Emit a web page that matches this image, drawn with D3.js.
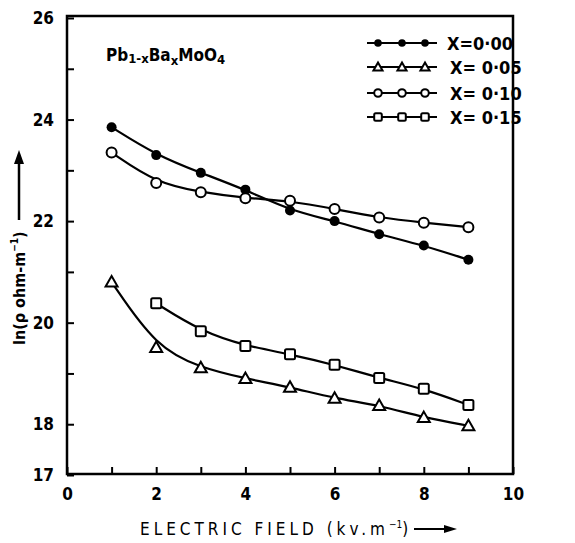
<!DOCTYPE html>
<html>
<head>
	<meta charset="utf-8">
	<title></title>
	<script src="https://d3js.org/d3.v7.min.js" charset="utf-8"></script>
	<style type="text/css">
		body { margin:0; background:#fff; }
		svg text { font-family: 'DejaVu Sans Condensed', 'DejaVu Sans', sans-serif; fill:#000; }
		.tick text { font-size:17px; font-weight:bold; }
	</style>
</head>
<body>
	<script type="text/javascript">
		// electric field (kv/m)
		var field = [1, 2, 3, 4, 5, 6, 7, 8, 9];
		var fieldSq = [2, 3, 4, 5, 6, 7, 8, 9];

		// ln(rho) for each composition
		var x000 = [23.85, 23.3, 22.95, 22.62, 22.21, 22.0, 21.74, 21.52, 21.24];
		var x005 = [20.8, 19.51, 19.11, 18.9, 18.73, 18.51, 18.37, 18.13, 17.97];
		var x010 = [23.35, 22.75, 22.57, 22.45, 22.4, 22.24, 22.07, 21.97, 21.88];
		var x015 = [20.38, 19.83, 19.54, 19.38, 19.17, 18.91, 18.7, 18.38];

		var legendLabels = ['X=0·00', 'X= 0·05', 'X= 0·10', 'X= 0·15'];
		var xTicks = [0,1,2,3,4,5,6,7,8,9,10];
		var yTicks = [17,18,19,20,21,22,23,24,25,26];
		var yLabeled = [17,18,20,22,24,26];

		var w = 575, h = 543;
		var mL = 67, mR = 513, mT = 16, mB = 474;

		var svg = d3.select('body').append('svg')
			.attr('width', w).attr('height', h);

		var x = d3.scaleLinear().domain([0, 10]).range([mL, mR]);
		var y = d3.scaleLinear().domain([17, 26]).range([475, 18]);

		// frame
		svg.append('rect')
			.attr('x', mL).attr('y', mT)
			.attr('width', mR - mL).attr('height', mB - mT)
			.attr('fill', 'none').attr('stroke', '#000').attr('stroke-width', 2.5);

		svg.append('g')
			.attr('transform', 'translate(0,' + mB + ')')
			.call(d3.axisBottom(x).tickValues(xTicks).tickSizeInner(-7).tickSizeOuter(0).tickPadding(14)
				.tickFormat(function(d){ return d % 2 == 0 ? d : ''; }));
		svg.append('g')
			.attr('transform', 'translate(' + mL + ',0)')
			.call(d3.axisLeft(y).tickValues(yTicks).tickSizeInner(-7).tickSizeOuter(0).tickPadding(13)
				.tickFormat(function(d){ return yLabeled.indexOf(d) >= 0 ? d : ''; }));
		svg.selectAll('.domain').remove();
		svg.selectAll('.tick line').attr('stroke-width', 2);

		// axis titles
		svg.append('text')
			.attr('x', 140).attr('y', 535)
			.attr('font-size', 17).attr('letter-spacing', 4)
			.text('ELECTRIC FIELD (kv.m')
			.append('tspan').attr('dy', -7).attr('font-size', 10).attr('letter-spacing', 0).text('−1')
			.select(function(){ return this.parentNode; })
			.append('tspan').attr('dy', 7).text(')');
		svg.append('line')
			.attr('x1', 414).attr('x2', 450).attr('y1', 529).attr('y2', 529)
			.attr('stroke', '#000').attr('stroke-width', 2);
		svg.append('path').attr('d', 'M457,529 L444,525 L444,533 Z').attr('fill', '#000');

		var yl = svg.append('g').attr('transform', 'translate(25,345) rotate(-90)');
		yl.append('text')
			.attr('x', 0).attr('y', 0)
			.attr('font-size', 16).attr('font-weight', 'bold')
			.text('ln(ρ ohm-m')
			.append('tspan').attr('dy', -7).attr('font-size', 10).text('−1')
			.select(function(){ return this.parentNode; })
			.append('tspan').attr('dy', 7).text(')');
		yl.append('line')
			.attr('x1', 125).attr('x2', 185).attr('y1', -6).attr('y2', -6)
			.attr('stroke', '#000').attr('stroke-width', 2.5);
		yl.append('path').attr('d', 'M195,-6 L181,-11 L181,-1 Z').attr('fill', '#000');

		// compound label
		var t = svg.append('text').attr('x', 106).attr('y', 61).attr('font-size', 17).attr('font-weight', 'bold');
		t.append('tspan').text('Pb');
		t.append('tspan').attr('font-size', 13).attr('dy', 2).text('1-x');
		t.append('tspan').attr('dy', -2).text('Ba');
		t.append('tspan').attr('font-size', 13).attr('dy', 4).text('x');
		t.append('tspan').attr('dy', -4).text('MoO');
		t.append('tspan').attr('font-size', 13).attr('dy', 3).text('4');

		var line = d3.line()
			.x(function(d){ return x(d[0]); })
			.y(function(d){ return y(d[1]); })
			.curve(d3.curveBasis);

		var series = [
			{ xs: field, ys: x000, mark: 'dot' },
			{ xs: field, ys: x005, mark: 'tri' },
			{ xs: field, ys: x010, mark: 'circle' },
			{ xs: fieldSq, ys: x015, mark: 'square' }
		];

		function drawMark(g, type, cx, cy, s) {
			if (type == 'dot') {
				g.append('circle').attr('cx', cx).attr('cy', cy).attr('r', s)
					.attr('fill', '#000');
			} else if (type == 'circle') {
				g.append('circle').attr('cx', cx).attr('cy', cy).attr('r', s)
					.attr('fill', '#fff').attr('stroke', '#000').attr('stroke-width', 2);
			} else if (type == 'tri') {
				var r = s * 1.2;
				g.append('path')
					.attr('d', 'M' + cx + ',' + (cy - r) + ' L' + (cx + r) + ',' + (cy + r * 0.75) + ' L' + (cx - r) + ',' + (cy + r * 0.75) + ' Z')
					.attr('fill', '#fff').attr('stroke', '#000').attr('stroke-width', 2);
			} else {
				g.append('rect').attr('x', cx - s).attr('y', cy - s)
					.attr('width', s * 2).attr('height', s * 2).attr('rx', 1.5)
					.attr('fill', '#fff').attr('stroke', '#000').attr('stroke-width', 2);
			}
		}

		series.forEach(function(s){
			var pts = s.xs.map(function(v, i){ return [v, s.ys[i]]; });
			svg.append('path')
				.attr('d', line(pts))
				.attr('fill', 'none').attr('stroke', '#000').attr('stroke-width', 2.2);
			var g = svg.append('g');
			pts.forEach(function(p){
				drawMark(g, s.mark, x(p[0]), y(p[1]), 5);
			});
		});

		// legend
		var legY = [43, 67, 93, 117];
		series.forEach(function(s, i){
			var g = svg.append('g');
			g.append('line')
				.attr('x1', 367).attr('x2', 437).attr('y1', legY[i]).attr('y2', legY[i])
				.attr('stroke', '#000').attr('stroke-width', 2.2);
			[378, 402, 425].forEach(function(cx){
				drawMark(g, s.mark, cx, legY[i], 3.8);
			});
			g.append('text')
				.attr('x', i == 0 ? 447 : 450).attr('y', legY[i] + 7)
				.attr('font-size', 18).attr('font-weight', 'bold')
				.text(legendLabels[i]);
		});
	</script>
</body>
</html>
